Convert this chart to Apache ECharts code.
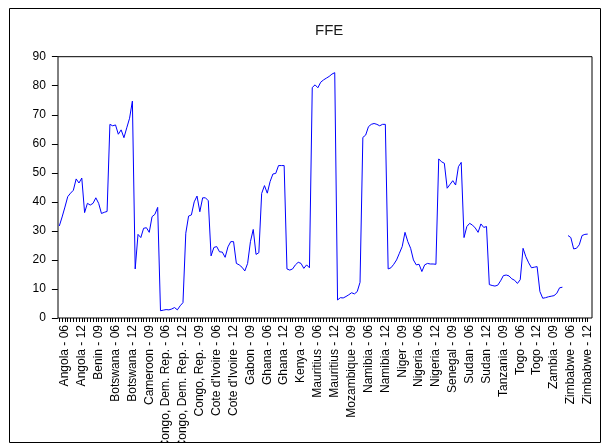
<!DOCTYPE html>
<html>
<head>
<meta charset="utf-8">
<script src="https://cdn.jsdelivr.net/npm/echarts@6/dist/echarts.min.js"></script>
<style>
  html, body { margin: 0; padding: 0; background: #ffffff; }
  #chart { width: 604px; height: 445px; }
</style>
</head>
<body>
<div id="chart"></div>
<script>
// Panel: 21 countries, yearly observations 2004-2012
const years = ['04', '05', '06', '07', '08', '09', '10', '11', '12'];
const countries = [
  'Angola', 'Benin', 'Botswana', 'Cameroon', 'Congo, Dem. Rep.', 'Congo, Rep.',
  "Cote d'Ivoire", 'Gabon', 'Ghana', 'Kenya', 'Mauritius', 'Mozambique',
  'Namibia', 'Niger', 'Nigeria', 'Senegal', 'Sudan', 'Tanzania', 'Togo',
  'Zambia', 'Zimbabwe'
];

// FFE by country, one value per year
const angola     = [31.7, 34.8, 38.2, 41.8, 43.0, 44.0, 47.9, 46.5, 48.2];
const benin      = [36.3, 39.5, 38.9, 39.5, 41.4, 39.5, 36.0, 36.4, 36.7];
const botswana   = [66.7, 66.2, 66.5, 63.3, 64.8, 62.1, 65.5, 68.8, 74.7];
const cameroon   = [16.9, 28.8, 27.7, 30.9, 31.1, 29.5, 34.9, 35.7, 38.1];
const congoDR    = [2.5, 2.7, 2.9, 2.8, 3.1, 3.6, 2.8, 4.2, 5.3];
const congoRep   = [29.2, 35.1, 35.5, 40.0, 42.0, 36.6, 41.4, 41.4, 40.4];
const coteIvoire = [21.4, 24.3, 24.6, 22.8, 22.7, 20.9, 24.5, 26.3, 26.3];
const gabon      = [18.8, 18.3, 17.5, 16.2, 18.8, 26.3, 30.5, 21.9, 22.5];
const ghana      = [42.9, 45.6, 43.0, 47.0, 49.6, 49.8, 52.5, 52.5, 52.5];
const kenya      = [16.9, 16.5, 16.9, 18.3, 19.2, 18.8, 17.1, 18.3, 17.3];
const mauritius  = [79.4, 80.3, 79.3, 81.2, 82.0, 82.6, 83.2, 84.0, 84.5];
const mozambique = [6.2, 7.0, 6.9, 7.4, 8.0, 8.7, 8.3, 9.1, 12.3];
const namibia    = [62.2, 63.0, 65.9, 66.7, 67.0, 66.7, 66.2, 66.7, 66.7];
const niger      = [16.9, 17.3, 18.5, 20.0, 22.3, 24.6, 29.5, 26.3, 24.0];
const nigeria    = [20.0, 18.3, 18.5, 16.0, 18.3, 18.8, 18.6, 18.6, 18.5];
const senegal    = [54.8, 53.8, 53.3, 44.7, 46.0, 47.3, 45.8, 52.1, 53.6];
const sudan      = [27.7, 31.5, 32.6, 32.0, 31.0, 29.5, 32.4, 31.2, 31.5];
const tanzania   = [11.5, 11.2, 11.0, 11.3, 12.8, 14.6, 14.8, 14.5, 13.5];
const togo       = [13.0, 11.9, 13.2, 24.0, 21.1, 19.0, 17.3, 17.5, 17.7];
const zambia     = [9.1, 6.8, 7.0, 7.3, 7.5, 7.7, 8.5, 10.4, 10.6];
const zimbabwe   = [null, 28.4, 27.7, 23.8, 24.0, 25.2, 28.4, 28.8, 28.9];

const byCountry = [
  angola, benin, botswana, cameroon, congoDR, congoRep, coteIvoire, gabon,
  ghana, kenya, mauritius, mozambique, namibia, niger, nigeria, senegal,
  sudan, tanzania, togo, zambia, zimbabwe
];

// Y-axis ticks
const yTicks = [0, 10, 20, 30, 40, 50, 60, 70, 80, 90];

// Stack the panel into one observation sequence
const categories = [];
const ffe = [];
countries.forEach((name, k) => {
  years.forEach((yy, j) => {
    categories.push(name + ' - ' + yy);
    ffe.push(byCountry[k][j]);
  });
});

const FONT = '"Liberation Sans", Arial, sans-serif';
const chart = echarts.init(document.getElementById('chart'), null, { renderer: 'canvas' });

chart.setOption({
  animation: false,
  backgroundColor: '#ffffff',
  title: {
    text: 'FFE',
    left: 310,
    top: 18,
    textStyle: { fontFamily: FONT, fontSize: 15, fontWeight: 'normal', color: '#1a1a1a' }
  },
  grid: [
    { left: 57.9, right: 14.9, top: 56.7, bottom: 127, containLabel: false, outerBoundsMode: 'none' },
    { left: 58, right: 12, top: 56.7, bottom: 127, outerBoundsMode: 'none',
      show: true, borderColor: '#000', borderWidth: 1, backgroundColor: 'transparent' }
  ],
  xAxis: [
    {
      type: 'category',
      gridIndex: 0,
      data: categories,
      boundaryGap: true,
      axisLine: { show: false },
      axisTick: {
        show: true,
        alignWithLabel: true,
        interval: 0,
        length: 4,
        lineStyle: { color: '#000', width: 1 }
      },
      axisLabel: {
        interval: (i) => i % 6 === 2,
        rotate: 90,
        margin: 7,
        fontFamily: FONT,
        fontSize: 12,
        color: '#000'
      },
      splitLine: { show: false }
    },
    { type: 'value', gridIndex: 1, show: false }
  ],
  yAxis: [
    {
      type: 'value',
      gridIndex: 0,
      min: yTicks[0],
      max: yTicks[yTicks.length - 1],
      interval: 10,
      axisLine: { show: false },
      axisTick: { show: true, length: 6, lineStyle: { color: '#000' } },
      axisLabel: { margin: 12, fontFamily: FONT, fontSize: 12, color: '#000' },
      splitLine: { show: false }
    },
    { type: 'value', gridIndex: 1, show: false }
  ],
  series: [
    {
      name: 'FFE',
      type: 'line',
      xAxisIndex: 0,
      yAxisIndex: 0,
      data: ffe,
      showSymbol: false,
      symbol: 'none',
      connectNulls: false,
      lineStyle: { color: '#0000ff', width: 1 },
      itemStyle: { color: '#0000ff' }
    }
  ],
  graphic: [
    {
      type: 'rect',
      z: 100,
      shape: { x: 0, y: 443, width: 604, height: 2 },
      style: { fill: '#ffffff' }
    },
    {
      type: 'rect',
      z: 101,
      shape: { x: 9.5, y: 8.5, width: 591, height: 434 },
      style: { fill: 'none', stroke: '#000', lineWidth: 1 }
    }
  ]
});
</script>
</body>
</html>
